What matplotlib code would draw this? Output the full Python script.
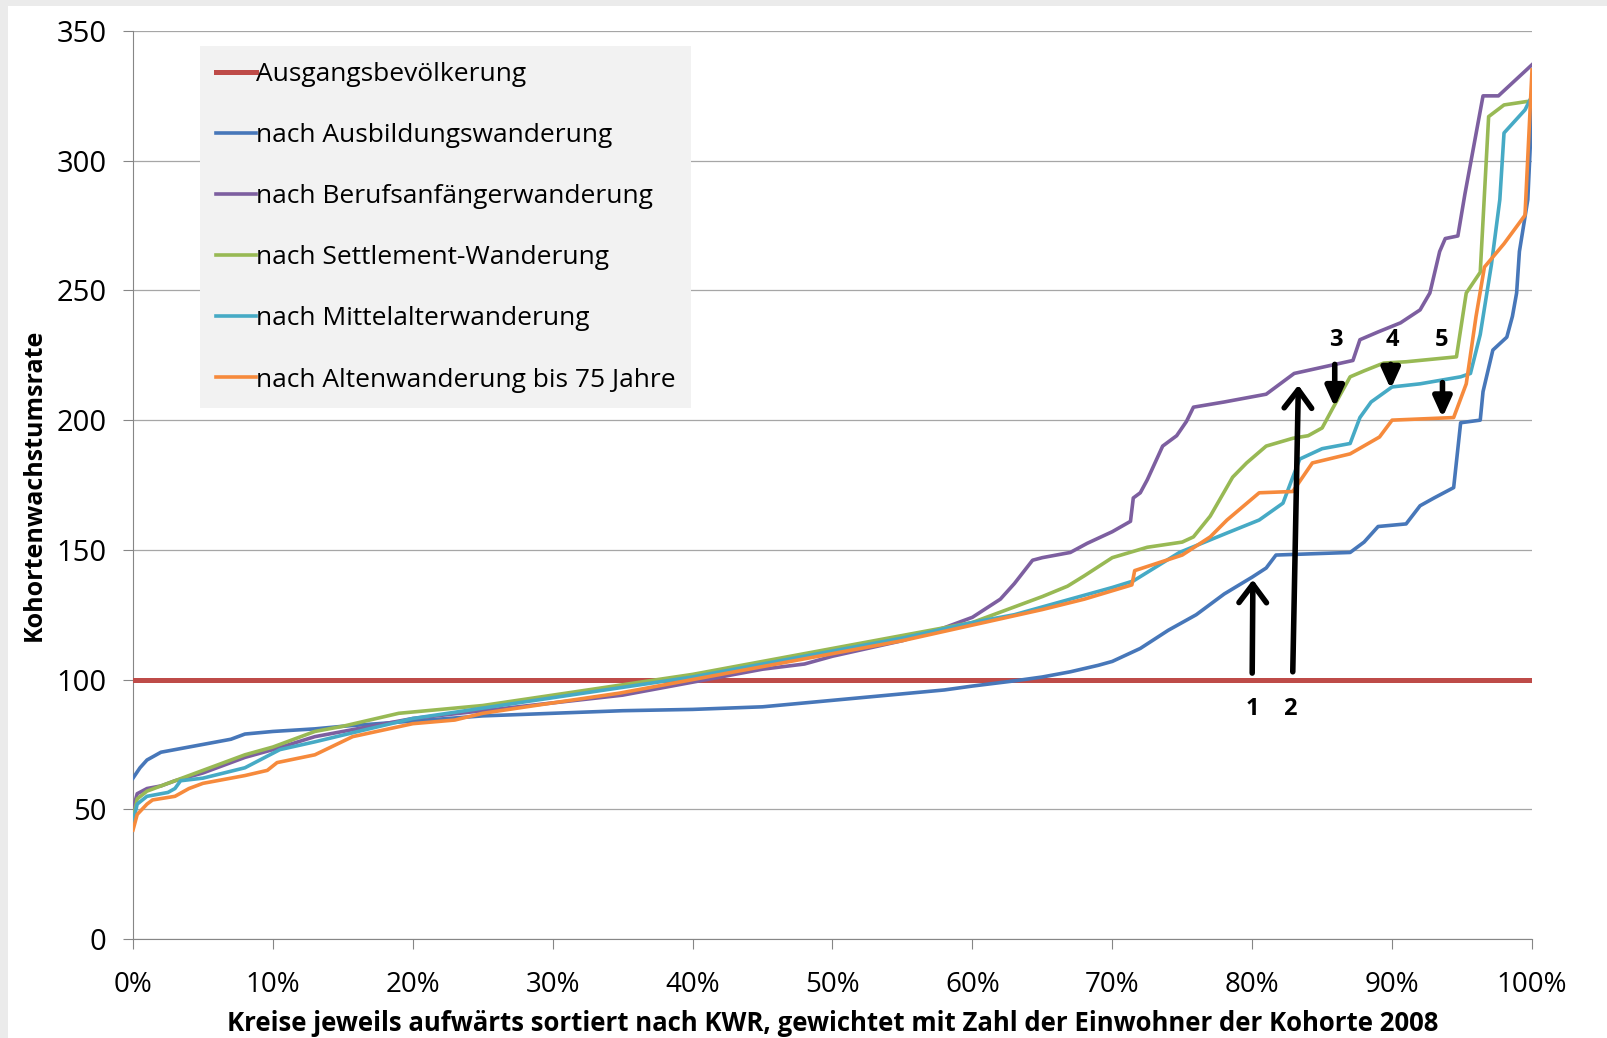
import matplotlib
matplotlib.use("Agg")
import matplotlib.pyplot as plt
from matplotlib.patches import Rectangle
from matplotlib.ticker import FuncFormatter

# x = share of Kreise (percent), y = Kohortenwachstumsrate
base_x = [0, 100]
base_y = [100, 100]

ausb_x = [0, 0.5, 1, 2, 3, 5, 7, 8, 10, 13, 15, 20, 25, 30, 35, 40, 45, 50, 55, 58,
          60, 63, 65, 67, 69, 70, 72, 74, 76, 78, 80, 81, 81.7, 87, 88, 89, 91, 92, 93, 94.4,
          94.9, 96.3, 96.5, 97.2, 98.2, 98.6, 98.9, 99.1, 99.7, 100]
ausb_y = [62, 66, 69, 72, 73, 75, 77, 79, 80, 81, 82, 84, 86, 87, 88, 88.5, 89.5, 92, 94.5, 96,
          97.5, 99.5, 101, 103, 105.5, 107, 112, 119, 125, 133, 139.5, 143, 148, 149, 153, 159, 160, 167, 170, 174,
          199, 200, 211, 227, 232, 240, 249, 265, 285, 320]

beruf_x = [0, 0.3, 1, 2, 3, 5, 8, 10, 13, 15, 18, 20, 25, 30, 35, 40, 45, 48, 50, 55,
           58, 60, 62, 63, 64.3, 65, 67, 68.2, 70, 71.3, 71.5, 72, 72.5, 73.6, 74.6, 75.3, 75.8, 78, 81, 82, 83,
           87.2, 87.7, 89, 90.6, 92, 92.7, 93.4, 93.8, 94.7, 95.2, 96.5, 97.6, 100]
beruf_y = [50, 56, 58, 59, 61, 64, 70, 73, 78, 80, 83, 85, 88, 91, 94, 99, 104, 106, 109, 115,
           120, 124, 131, 137, 146, 147, 149, 152.5, 157, 161, 170, 172, 177, 190, 194, 199.5, 205, 207, 210, 214, 218,
           223, 231, 234, 237.5, 242.5, 249, 265, 270, 271, 287, 325, 325, 337]

settl_x = [0, 0.3, 1, 3, 5, 8, 10, 13, 15, 19, 20, 25, 30, 35, 40, 45, 50, 55, 58, 60,
           63, 65, 66.8, 68, 70, 72.5, 75, 75.8, 77, 78.6, 79.6, 81, 82.9, 84, 85, 85.8, 87, 88, 89.4, 91, 94.6,
           95.3, 96.3, 96.9, 98, 99.6, 100]
settl_y = [46, 54, 57, 61, 65, 71, 74, 80, 82, 87, 87.5, 90, 94, 98, 102, 107, 112, 117, 120, 122,
           128, 132, 136, 140, 147, 151, 153, 155, 163, 178, 183.5, 190, 193, 194, 197, 205, 216.7, 219, 222, 222.5, 224.4,
           249, 257, 317, 321.5, 322.8, 323]

mittel_x = [0, 0.3, 1, 2.5, 3, 3.4, 5, 8, 10.5, 13, 15.7, 20, 25, 30, 35, 40, 45, 50, 55, 60,
            63, 66.8, 70, 71.5, 74.8, 78.2, 80.5, 82.2, 82.9, 83.4, 85, 87, 87.7, 88.5, 90, 92, 94.9, 95.6, 96.3, 97.1,
            97.7, 98, 99.5, 100]
mittel_y = [45, 52, 55, 56.5, 58, 61, 62, 66, 73, 76, 79.5, 85, 89, 93, 97, 101, 106, 111, 116, 122,
            125, 130.7, 135.5, 138, 149, 156.5, 161.5, 168, 178, 185, 189, 191, 201, 207, 212.8, 214, 216.7, 218, 233, 260,
            285, 310.7, 319.6, 325]

alten_x = [0, 0.3, 1, 1.4, 3, 4, 5, 8, 9.6, 10.3, 13, 15.7, 20, 23, 25, 30, 34.8, 40, 45, 50,
           55, 60, 65, 68, 71.4, 71.6, 75, 77, 78.2, 80.5, 82.9, 84.3, 87, 89.1, 90, 94.4, 95.3, 96, 96.6, 98,
           99.5, 100]
alten_y = [42, 48, 52, 53.6, 55, 58, 60, 63, 65, 68, 71, 78, 83, 84.4, 87, 91, 94.8, 100, 105, 110,
           115, 121, 127, 131, 136.5, 142, 148, 155, 161.5, 172, 172.5, 183.5, 187, 193.5, 200, 201, 214, 240, 259, 268,
           279, 335]

labels = ["Ausgangsbevölkerung", "nach Ausbildungswanderung", "nach Berufsanfängerwanderung",
          "nach Settlement-Wanderung", "nach Mittelalterwanderung", "nach Altenwanderung bis 75 Jahre"]
colors = ["#BE4B48", "#4777B9", "#7D5FA0", "#98B954", "#46AAC5", "#F68A3C"]

# numbered arrows
arrow_num = ["1", "2", "3", "4", "5"]
arrow_tail = [(80.0, 102.5), (82.9, 103), (85.9, 221.5), (89.9, 221.5), (93.6, 214.5)]
arrow_tip = [(80.05, 138.5), (83.3, 213.5), (85.9, 205), (89.9, 212), (93.6, 201)]
arrow_lbl = [(80.0, 88.5), (82.7, 88.5), (86.0, 231), (90.0, 231), (93.5, 231)]

plt.rcParams['font.family'] = ['Open Sans', 'DejaVu Sans']

fig = plt.figure(figsize=(16.08, 10.38), dpi=100, facecolor="#ebebeb")
fig.patches.append(Rectangle((8 / 1608, 0), 1, 1 - 6 / 1038, transform=fig.transFigure,
                             facecolor="white", edgecolor="none", zorder=-1))
ax = fig.add_axes([133 / 1608, 1 - 939 / 1038, 1399 / 1608, 908 / 1038])
ax.set_facecolor("white")

series = [(base_x, base_y), (ausb_x, ausb_y), (beruf_x, beruf_y),
          (settl_x, settl_y), (mittel_x, mittel_y), (alten_x, alten_y)]
for i, (xs, ys) in enumerate(series):
    lw = 3.6 if i == 0 else 2.6
    ax.plot(xs, ys, color=colors[i], lw=lw, label=labels[i], zorder=3)

ax.set_xlim(0, 100)
ax.set_ylim(0, 350)
ax.set_xticks(range(0, 101, 10))
ax.set_yticks(range(0, 351, 50))
ax.xaxis.set_major_formatter(FuncFormatter(lambda v, p: "%d%%" % v))
ax.yaxis.grid(True, color="#a6a6a6", lw=0.9)
ax.set_axisbelow(True)
for s in ["top", "right"]:
    ax.spines[s].set_visible(False)
for s in ["left", "bottom"]:
    ax.spines[s].set_color("#868686")
ax.tick_params(axis="x", direction="out", length=7, color="#868686", labelsize=20, pad=16)
ax.tick_params(axis="y", direction="out", length=7, color="#868686", labelsize=21, pad=12)

ax.set_xlabel("Kreise jeweils aufwärts sortiert nach KWR, gewichtet mit Zahl der Einwohner der Kohorte 2008",
              fontsize=18.5, fontweight="bold", labelpad=8)
ax.set_ylabel("Kohortenwachstumsrate", fontsize=18, fontweight="bold")
ax.yaxis.set_label_coords(-0.062, 0.5)

leg = ax.legend(loc="upper left", bbox_to_anchor=(0.048, 0.9835), borderaxespad=0,
                fontsize=19, frameon=True, fancybox=False, handlelength=1.5, handletextpad=0.0,
                labelspacing=1.37, borderpad=0.6)
leg.get_frame().set_facecolor("#f2f2f2")
leg.get_frame().set_edgecolor("none")
leg.get_frame().set_alpha(1)

for i, n in enumerate(arrow_num):
    if i < 2:
        style = "->,head_length=0.6,head_width=0.45"
    else:
        style = "-|>,head_length=0.55,head_width=0.25"
    ax.annotate("", xy=arrow_tip[i], xytext=arrow_tail[i],
                arrowprops=dict(arrowstyle=style, color="black", lw=4, shrinkA=0, shrinkB=0,
                                mutation_scale=22), zorder=6)
    ax.text(arrow_lbl[i][0], arrow_lbl[i][1], n, fontsize=17, fontweight="bold",
            ha="center", va="center", zorder=6)

fig.savefig("out.png", dpi=100, facecolor=fig.get_facecolor())
